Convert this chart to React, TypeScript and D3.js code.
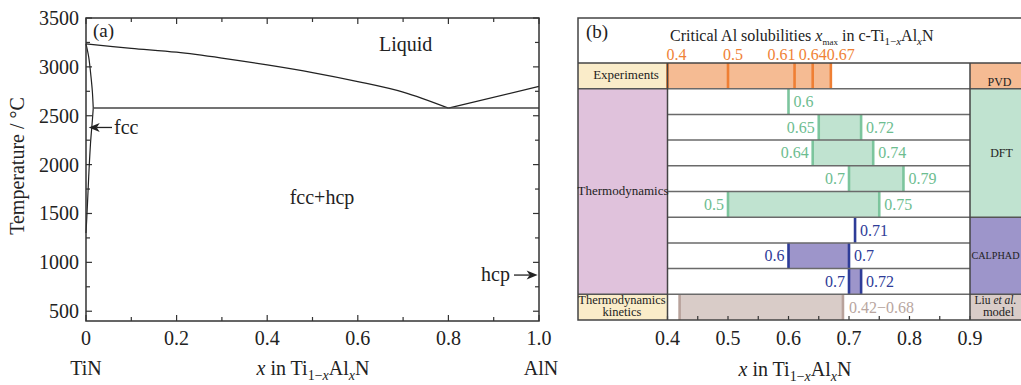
import React from 'react'
import * as d3 from 'd3'

// ---- panel (a): TiN-AlN quasi-binary phase diagram ----
const liquidusX = [0, 0.1, 0.2, 0.3, 0.4, 0.5, 0.6, 0.7, 0.8]
const liquidusT = [3235, 3190, 3150, 3090, 3020, 2942, 2850, 2742, 2578]
const hcpLiquidusX = [0.8, 1.0]
const hcpLiquidusT = [2578, 2800]
const fccSolidusX = [0, 0.006, 0.011, 0.014, 0.016]
const fccSolidusT = [3235, 3100, 2900, 2750, 2578]
const fccSolvusX = [0.016, 0.014, 0.01, 0.006, 0.003, 0]
const fccSolvusT = [2578, 2450, 2220, 1880, 1575, 1300]
const eutecticX = [0.016, 1.0]
const eutecticT = 2578
const tempTicks = [500, 1000, 1500, 2000, 2500, 3000, 3500]
const compTicks = [0, 0.2, 0.4, 0.6, 0.8, 1.0]
const compTickLabels = ['0', '0.2', '0.4', '0.6', '0.8', '1.0']

// ---- panel (b): critical Al solubilities ----
const expValues = [0.4, 0.5, 0.61, 0.64, 0.67]
const expLabels = ['0.4', '0.5', '0.61', '0.64', '0.67']
const dftRows = [[0.6], [0.65, 0.72], [0.64, 0.74], [0.7, 0.79], [0.5, 0.75]]
const calphadRows = [[0.71], [0.6, 0.7], [0.7, 0.72]]
const kineticsRange = [0.42, 0.69]
const kineticsLabel = '0.42\u22120.68'
const solTicks = [0.4, 0.5, 0.6, 0.7, 0.8, 0.9]

const FONT = "'Liberation Serif', 'DejaVu Serif', serif"
const INK = '#222'

// colours per method group
const EXP = { fill: '#f5bb93', line: '#ef7f34', text: '#ef8236', cell: '#f5bb93' }
const DFT = { fill: '#c0e3d0', line: '#7cc59d', text: '#6dbd90', cell: '#c0e3d0' }
const CAL = { fill: '#9d95ca', line: '#2e3c98', text: '#2e3c98', cell: '#9d95ca' }
const KIN = { fill: '#d9ccc8', line: '#b8a29b', text: '#b8a6a0', cell: '#d9ccc8' }

const Formula = ({ x, y, size, anchor = 'middle' }) => {
  const d = size * 0.25
  const s = size * 0.7
  return (
    <text x={x} y={y} fontSize={size} textAnchor={anchor} fill={INK}>
      <tspan fontStyle="italic">x</tspan> in Ti
      <tspan fontSize={s} dy={d}>1{'\u2212'}</tspan>
      <tspan fontSize={s} fontStyle="italic">x</tspan>
      <tspan dy={-d}>Al</tspan>
      <tspan fontSize={s} fontStyle="italic" dy={d}>x</tspan>
      <tspan dy={-d}>N</tspan>
    </text>
  )
}

const PhaseDiagram = () => {
  const x = d3.scaleLinear().domain([0, 1]).range([86, 539])
  const y = d3.scaleLinear().domain([400, 3500]).range([321, 18])
  const line = d3
    .line()
    .x((d) => x(d[0]))
    .y((d) => y(d[1]))
  const curve = line.curve(d3.curveCatmullRom)

  const liq = liquidusX.map((v, i) => [v, liquidusT[i]])
  const liqHcp = hcpLiquidusX.map((v, i) => [v, hcpLiquidusT[i]])
  const sol = fccSolidusX.map((v, i) => [v, fccSolidusT[i]])
  const solv = fccSolvusX.map((v, i) => [v, fccSolvusT[i]])

  const yMinor = d3.range(500, 3501, 250)
  const xMinor = d3.range(0, 1.0001, 0.1)

  const [x0, x1] = x.range()
  const [yb, yt] = y.range()

  // arrow helper (tip at tx)
  const arrow = (tx, ty, fromX) => {
    const dir = Math.sign(fromX - tx)
    return (
      <g>
        <line x1={fromX} y1={ty} x2={tx + dir * 8} y2={ty} stroke={INK} strokeWidth={1.3} />
        <path
          d={`M${tx},${ty} L${tx + dir * 11},${ty - 4.5} L${tx + dir * 8},${ty} L${tx + dir * 11},${ty + 4.5} Z`}
          fill={INK}
        />
      </g>
    )
  }

  return (
    <g fontFamily={FONT}>
      {/* ticks */}
      {yMinor.map((t) => {
        const len = t % 500 === 0 ? 6 : 4
        return (
          <g key={'yt' + t} stroke="#333" strokeWidth={1.2}>
            <line x1={x0} x2={x0 + len} y1={y(t)} y2={y(t)} />
            <line x1={x1} x2={x1 - len} y1={y(t)} y2={y(t)} />
          </g>
        )
      })}
      {xMinor.map((t, i) => {
        const len = i % 2 === 0 ? 6 : 4
        return (
          <g key={'xt' + i} stroke="#333" strokeWidth={1.2}>
            <line x1={x(t)} x2={x(t)} y1={yb} y2={yb - len} />
            <line x1={x(t)} x2={x(t)} y1={yt} y2={yt + len} />
          </g>
        )
      })}

      {/* phase boundaries */}
      <path d={curve(liq)} fill="none" stroke={INK} strokeWidth={1.3} />
      <path d={line.curve(d3.curveLinear)(liqHcp)} fill="none" stroke={INK} strokeWidth={1.3} />
      <path d={line.curve(d3.curveCatmullRom)(sol)} fill="none" stroke={INK} strokeWidth={1.2} />
      <path d={line.curve(d3.curveCatmullRom)(solv)} fill="none" stroke={INK} strokeWidth={1.2} />
      <line
        x1={x(eutecticX[0])}
        x2={x(eutecticX[1])}
        y1={y(eutecticT)}
        y2={y(eutecticT)}
        stroke="#444"
        strokeWidth={1.5}
      />

      {/* frame */}
      <rect x={x0} y={yt} width={x1 - x0} height={yb - yt} fill="none" stroke="#333" strokeWidth={1.5} />

      {/* tick labels */}
      {tempTicks.map((t) => (
        <text key={'tl' + t} x={x0 - 7} y={y(t) + 7} fontSize={20} textAnchor="end" fill={INK}>
          {t}
        </text>
      ))}
      {compTicks.map((t, i) => (
        <text key={'cl' + t} x={x(t)} y={345} fontSize={20} textAnchor="middle" fill={INK}>
          {compTickLabels[i]}
        </text>
      ))}

      <text x={x(0)} y={375} fontSize={20} textAnchor="middle" fill={INK}>TiN</text>
      <text x={x(1) + 2} y={375} fontSize={20} textAnchor="middle" fill={INK}>AlN</text>
      <Formula x={313} y={375} size={20} />
      <text transform="translate(24,166) rotate(-90)" fontSize={20} textAnchor="middle" fill={INK}>
        Temperature / °C
      </text>

      <text x={93} y={37} fontSize={19} fill={INK}>(a)</text>
      <text x={379} y={51} fontSize={20} fill={INK}>Liquid</text>
      <text x={322} y={204} fontSize={20} textAnchor="middle" fill={INK}>fcc+hcp</text>

      {arrow(x(0.006), y(2380), 112)}
      <text x={114} y={134} fontSize={20} fill={INK}>fcc</text>
      {arrow(x(0.997), y(870), 514)}
      <text x={510} y={281} fontSize={20} textAnchor="end" fill={INK}>hcp</text>
    </g>
  )
}

const Solubility = () => {
  const x = d3.scaleLinear().domain([0.4, 0.9]).range([667.5, 970])
  const rows = d3.range(10)
  const y = d3.scaleBand().domain(rows).range([63, 320])
  const h = y.bandwidth()
  const boxL = 578
  const boxR = 1040
  const [px0, px1] = x.range()
  const sideMid = 995.5

  const rangeRow = (vals, row, c, key) => {
    const top = y(row)
    const mid = top + h / 2 + 5.5
    const a = vals[0]
    const b = vals[vals.length - 1]
    return (
      <g key={key}>
        {vals.length > 1 && <rect x={x(a)} y={top} width={x(b) - x(a)} height={h} fill={c.fill} />}
        {vals.map((v, i) => (
          <line key={i} x1={x(v)} x2={x(v)} y1={top} y2={top + h} stroke={c.line} strokeWidth={2.6} />
        ))}
        {vals.length > 1 && (
          <text x={x(a) - 4} y={mid} fontSize={16} textAnchor="end" fill={c.text}>
            {String(a)}
          </text>
        )}
        <text x={x(b) + 5} y={mid} fontSize={16} fill={c.text}>
          {String(b)}
        </text>
      </g>
    )
  }

  const expAnchor = ['start', 'middle', 'end', 'middle', 'start']
  const expDx = [-1, 5, 1, 0, -4]

  return (
    <g fontFamily={FONT}>
      {/* side cells */}
      <rect x={boxL} y={y(0)} width={px0 - boxL} height={h} fill="#faecc9" />
      <rect x={boxL} y={y(1)} width={px0 - boxL} height={h * 8} fill="#e0c2dc" />
      <rect x={boxL} y={y(9)} width={px0 - boxL} height={h} fill="#faecc9" />
      <rect x={px1} y={y(0)} width={boxR - px1} height={h} fill={EXP.cell} />
      <rect x={px1} y={y(1)} width={boxR - px1} height={h * 5} fill={DFT.cell} />
      <rect x={px1} y={y(6)} width={boxR - px1} height={h * 3} fill={CAL.cell} />
      <rect x={px1} y={y(9)} width={boxR - px1} height={h} fill={KIN.cell} />

      {/* experiments row */}
      <rect x={x(expValues[0])} y={y(0)} width={x(d3.max(expValues)) - x(expValues[0])} height={h} fill={EXP.fill} />
      {expValues.map((v, i) => (
        <g key={'e' + i}>
          <line x1={x(v)} x2={x(v)} y1={y(0)} y2={y(0) + h} stroke={EXP.line} strokeWidth={2.6} />
          <text x={x(v) + expDx[i]} y={60} fontSize={16} textAnchor={expAnchor[i]} fill={EXP.text}>
            {expLabels[i]}
          </text>
        </g>
      ))}

      {dftRows.map((r, i) => rangeRow(r, i + 1, DFT, 'd' + i))}
      {calphadRows.map((r, i) => rangeRow(r, i + 6, CAL, 'c' + i))}

      {/* kinetics row */}
      <rect x={x(kineticsRange[0])} y={y(9)} width={x(kineticsRange[1]) - x(kineticsRange[0])} height={h} fill={KIN.fill} />
      {kineticsRange.map((v, i) => (
        <line key={'k' + i} x1={x(v)} x2={x(v)} y1={y(9)} y2={y(9) + h} stroke={KIN.line} strokeWidth={2.6} />
      ))}
      <text x={x(kineticsRange[1]) + 6} y={y(9) + h / 2 + 6} fontSize={16} fill={KIN.text}>
        {kineticsLabel}
      </text>

      {/* row separators */}
      {rows.slice(1).map((r) => (
        <line key={'s' + r} x1={px0} x2={px1} y1={y(r)} y2={y(r)} stroke="#6a6a6a" strokeWidth={1.5} />
      ))}
      {[1, 9].map((r) => (
        <line key={'ls' + r} x1={boxL} x2={px0} y1={y(r)} y2={y(r)} stroke="#555" strokeWidth={1.5} />
      ))}
      {[1, 6, 9].map((r) => (
        <line key={'rs' + r} x1={px1} x2={boxR} y1={y(r)} y2={y(r)} stroke="#555" strokeWidth={1.5} />
      ))}

      {/* bottom ticks */}
      {d3.range(0.4, 0.9001, 0.05).map((t, i) => (
        <line key={'bt' + i} x1={x(t)} x2={x(t)} y1={320} y2={316} stroke="#333" strokeWidth={1.2} />
      ))}

      {/* frame */}
      <line x1={boxL} x2={boxR} y1={63} y2={63} stroke="#444" strokeWidth={1.5} />
      <line x1={px0} x2={px0} y1={63} y2={320} stroke="#444" strokeWidth={1.5} />
      <line x1={px1} x2={px1} y1={63} y2={320} stroke="#444" strokeWidth={1.5} />
      <rect x={boxL} y={18} width={boxR - boxL} height={302} fill="none" stroke="#444" strokeWidth={1.5} />

      {/* labels */}
      <text x={586} y={38} fontSize={19} fill={INK}>(b)</text>
      <text x={670} y={41} fontSize={16} fill={INK}>
        Critical Al solubilities <tspan fontStyle="italic">x</tspan>
        <tspan fontSize={9} dy={4}>max</tspan>
        <tspan dy={-4}> in c-Ti</tspan>
        <tspan fontSize={11} dy={4}>1{'\u2212'}</tspan>
        <tspan fontSize={11} fontStyle="italic">x</tspan>
        <tspan dy={-4}>Al</tspan>
        <tspan fontSize={11} fontStyle="italic" dy={4}>x</tspan>
        <tspan dy={-4}>N</tspan>
      </text>

      <text x={626} y={79} fontSize={13} textAnchor="middle" fill={INK}>Experiments</text>
      <text x={623} y={195} fontSize={13} textAnchor="middle" fill={INK}>Thermodynamics</text>
      <text x={622} y={304} fontSize={12.5} textAnchor="middle" fill={INK}>Thermodynamics</text>
      <text x={622} y={316} fontSize={12.5} textAnchor="middle" fill={INK}>kinetics</text>

      <text x={sideMid + 4} y={86} fontSize={12} textAnchor="middle" fill={INK}>PVD</text>
      <text x={sideMid + 6} y={157} fontSize={12} textAnchor="middle" fill={INK}>DFT</text>
      <text x={sideMid} y={259} fontSize={10.2} textAnchor="middle" fill={INK}>CALPHAD</text>
      <text x={sideMid} y={304} fontSize={11.5} textAnchor="middle" fill={INK}>
        Liu <tspan fontStyle="italic">et al.</tspan>
      </text>
      <text x={sideMid + 3} y={316} fontSize={12.5} textAnchor="middle" fill={INK}>model</text>

      {solTicks.map((t) => (
        <text key={'sl' + t} x={x(t)} y={345} fontSize={20} textAnchor="middle" fill={INK}>
          {String(t)}
        </text>
      ))}
      <Formula x={795} y={376} size={20} />
    </g>
  )
}

export default function App() {
  return (
    <svg
      width={1021}
      height={385}
      style={{ position: 'absolute', left: 0, top: 0, background: '#fff' }}>
      <rect width={1021} height={385} fill="#fff" />
      <PhaseDiagram />
      <Solubility />
    </svg>
  )
}
